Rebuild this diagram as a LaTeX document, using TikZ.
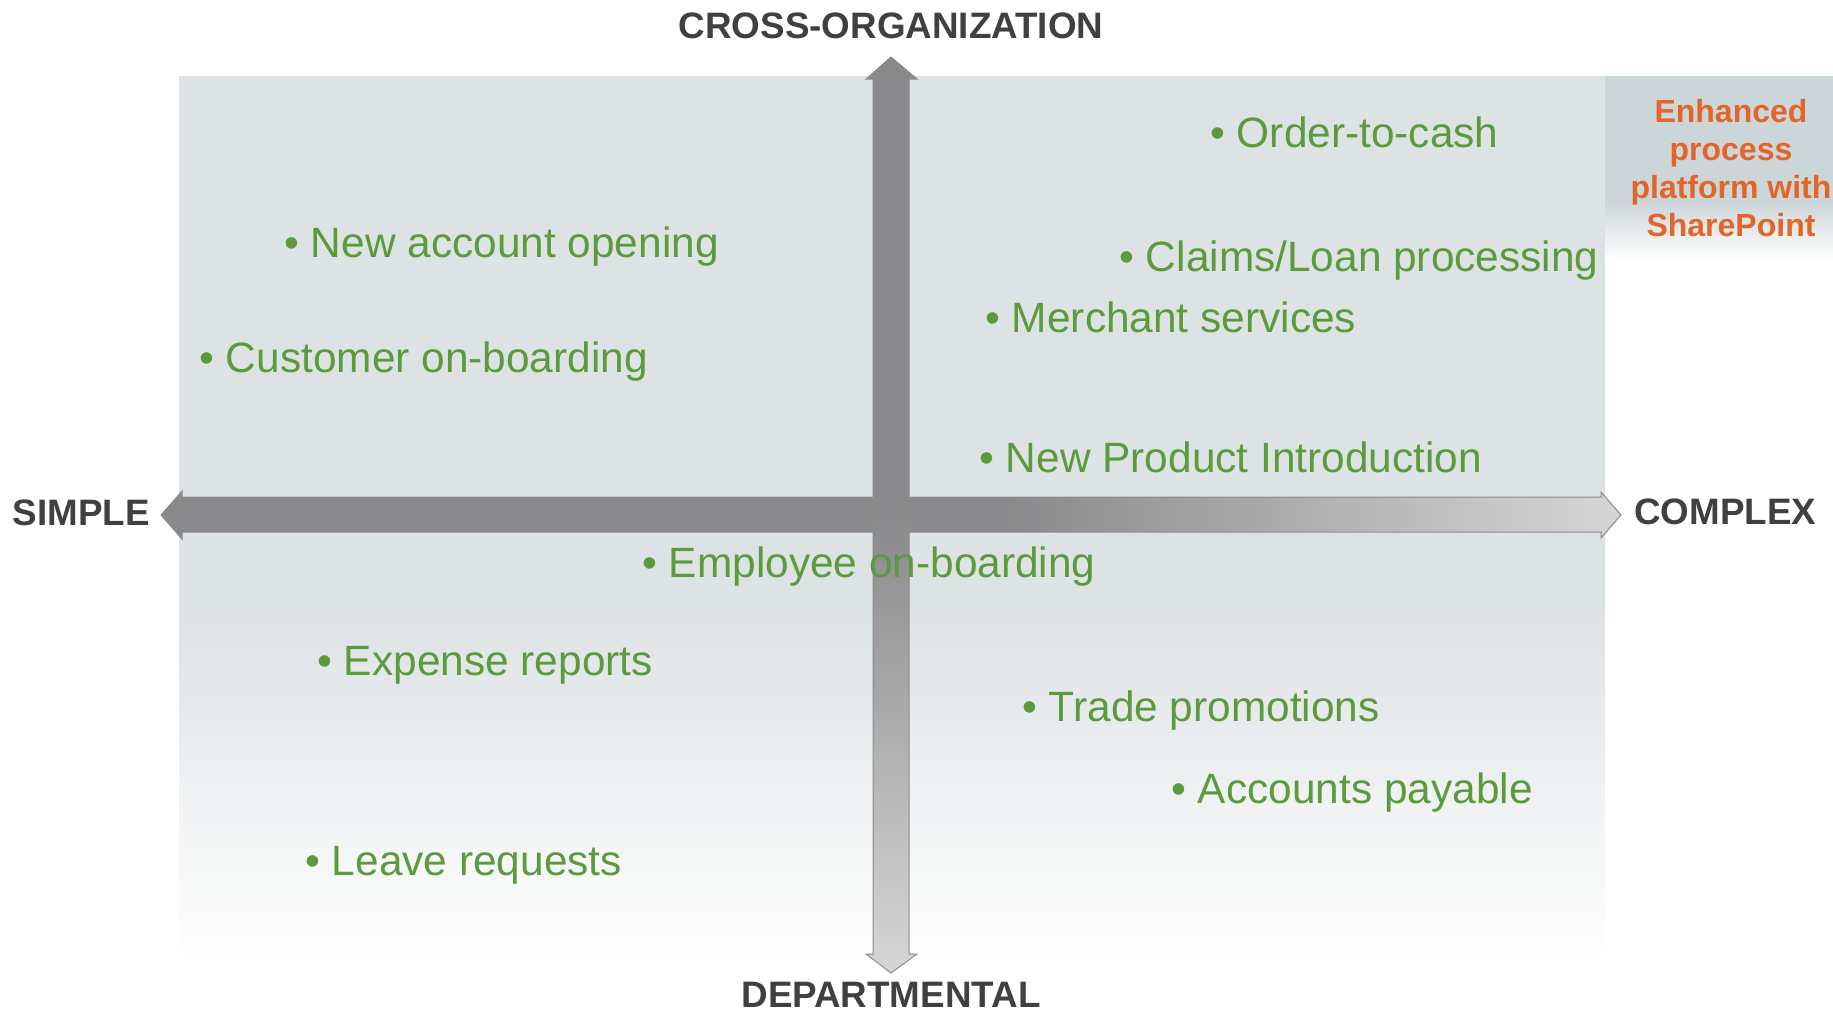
\documentclass[tikz,border=0pt]{standalone}
\usepackage{fontspec}
\setmainfont{Liberation Sans}

\definecolor{panel}{HTML}{DDE2E5}
\definecolor{sidepanel}{HTML}{CCD5D8}
\definecolor{arrowdark}{HTML}{8A8A8C}
\definecolor{arrowlight}{HTML}{D6D6D6}
\definecolor{arrowline}{HTML}{8C8C8C}
\definecolor{axistext}{HTML}{404040}
\definecolor{itemgreen}{HTML}{5B9B3C}
\definecolor{noteorange}{HTML}{E2662A}

\pgfdeclareverticalshading{panelfade}{100bp}{color(0bp)=(white); color(25bp)=(white); color(45bp)=(panel); color(100bp)=(panel)}
\pgfdeclareverticalshading{sidefade}{100bp}{color(0bp)=(white); color(25bp)=(white); color(41bp)=(sidepanel); color(100bp)=(sidepanel)}
\pgfdeclarehorizontalshading{harrowfade}{100bp}{color(0bp)=(arrowdark); color(54bp)=(arrowdark); color(75bp)=(arrowlight); color(100bp)=(arrowlight)}
\pgfdeclareverticalshading{varrowfade}{100bp}{color(0bp)=(arrowlight); color(25bp)=(arrowlight); color(50bp)=(arrowdark); color(100bp)=(arrowdark)}

\begin{document}
\begin{tikzpicture}[x=0.5pt, y=-0.5pt,
    item/.style={anchor=base west, inner sep=0pt, text=itemgreen, font=\fontsize{21.2}{25}\selectfont},
    axis/.style={inner sep=0pt, text=axistext, font=\fontsize{18.4}{22}\selectfont\bfseries}]
    \useasboundingbox (0, 0) rectangle (1833, 1013);

    \shade[shading=panelfade] (179, 76) rectangle (1605, 963);
    \shade[shading=sidefade] (1605, 76) rectangle (1833, 260);

    \shadedraw[shading=harrowfade, draw=arrowline, line width=0.5pt]
        (161, 515) -- (182, 491) -- (182, 497) -- (1601, 497) -- (1601, 492) -- (1621, 515)
        -- (1601, 538) -- (1601, 532) -- (182, 532) -- (182, 539) -- cycle;
    \shadedraw[shading=varrowfade, draw=arrowline, line width=0.5pt]
        (891, 57) -- (917, 79) -- (909, 79) -- (909, 954) -- (917, 954) -- (891, 973)
        -- (866, 954) -- (873, 954) -- (873, 79) -- (866, 79) -- cycle;

    \node[axis, anchor=base] (crossorg) at (891, 38) {CROSS-ORGANIZATION};
    \node[axis, anchor=base east] (simple) at (150, 525) {SIMPLE};
    \node[axis, anchor=base west] (complex) at (1634, 524) {COMPLEX};
    \node[axis, anchor=base] (departmental) at (891, 1007) {DEPARTMENTAL};

    \node[align=center, inner sep=0pt, text=noteorange, font=\fontsize{16}{19}\selectfont\bfseries]
        (platform) at (1731, 168) {Enhanced\\process\\platform with\\SharePoint};

    \node[item] (order) at (1210, 147) {• Order-to-cash};
    \node[item] (account) at (284, 257) {• New account opening};
    \node[item] (claims) at (1119, 271) {• Claims/Loan processing};
    \node[item] (merchant) at (985, 332) {• Merchant services};
    \node[item] (customer) at (199, 372) {• Customer on-boarding};
    \node[item] (product) at (979, 472) {• New Product Introduction};
    \node[item] (employee) at (642, 577) {• Employee on-boarding};
    \node[item] (expense) at (317, 675) {• Expense reports};
    \node[item] (trade) at (1022, 721) {• Trade promotions};
    \node[item] (payable) at (1171, 803) {• Accounts payable};
    \node[item] (leave) at (305, 875) {• Leave requests};
\end{tikzpicture}
\end{document}
